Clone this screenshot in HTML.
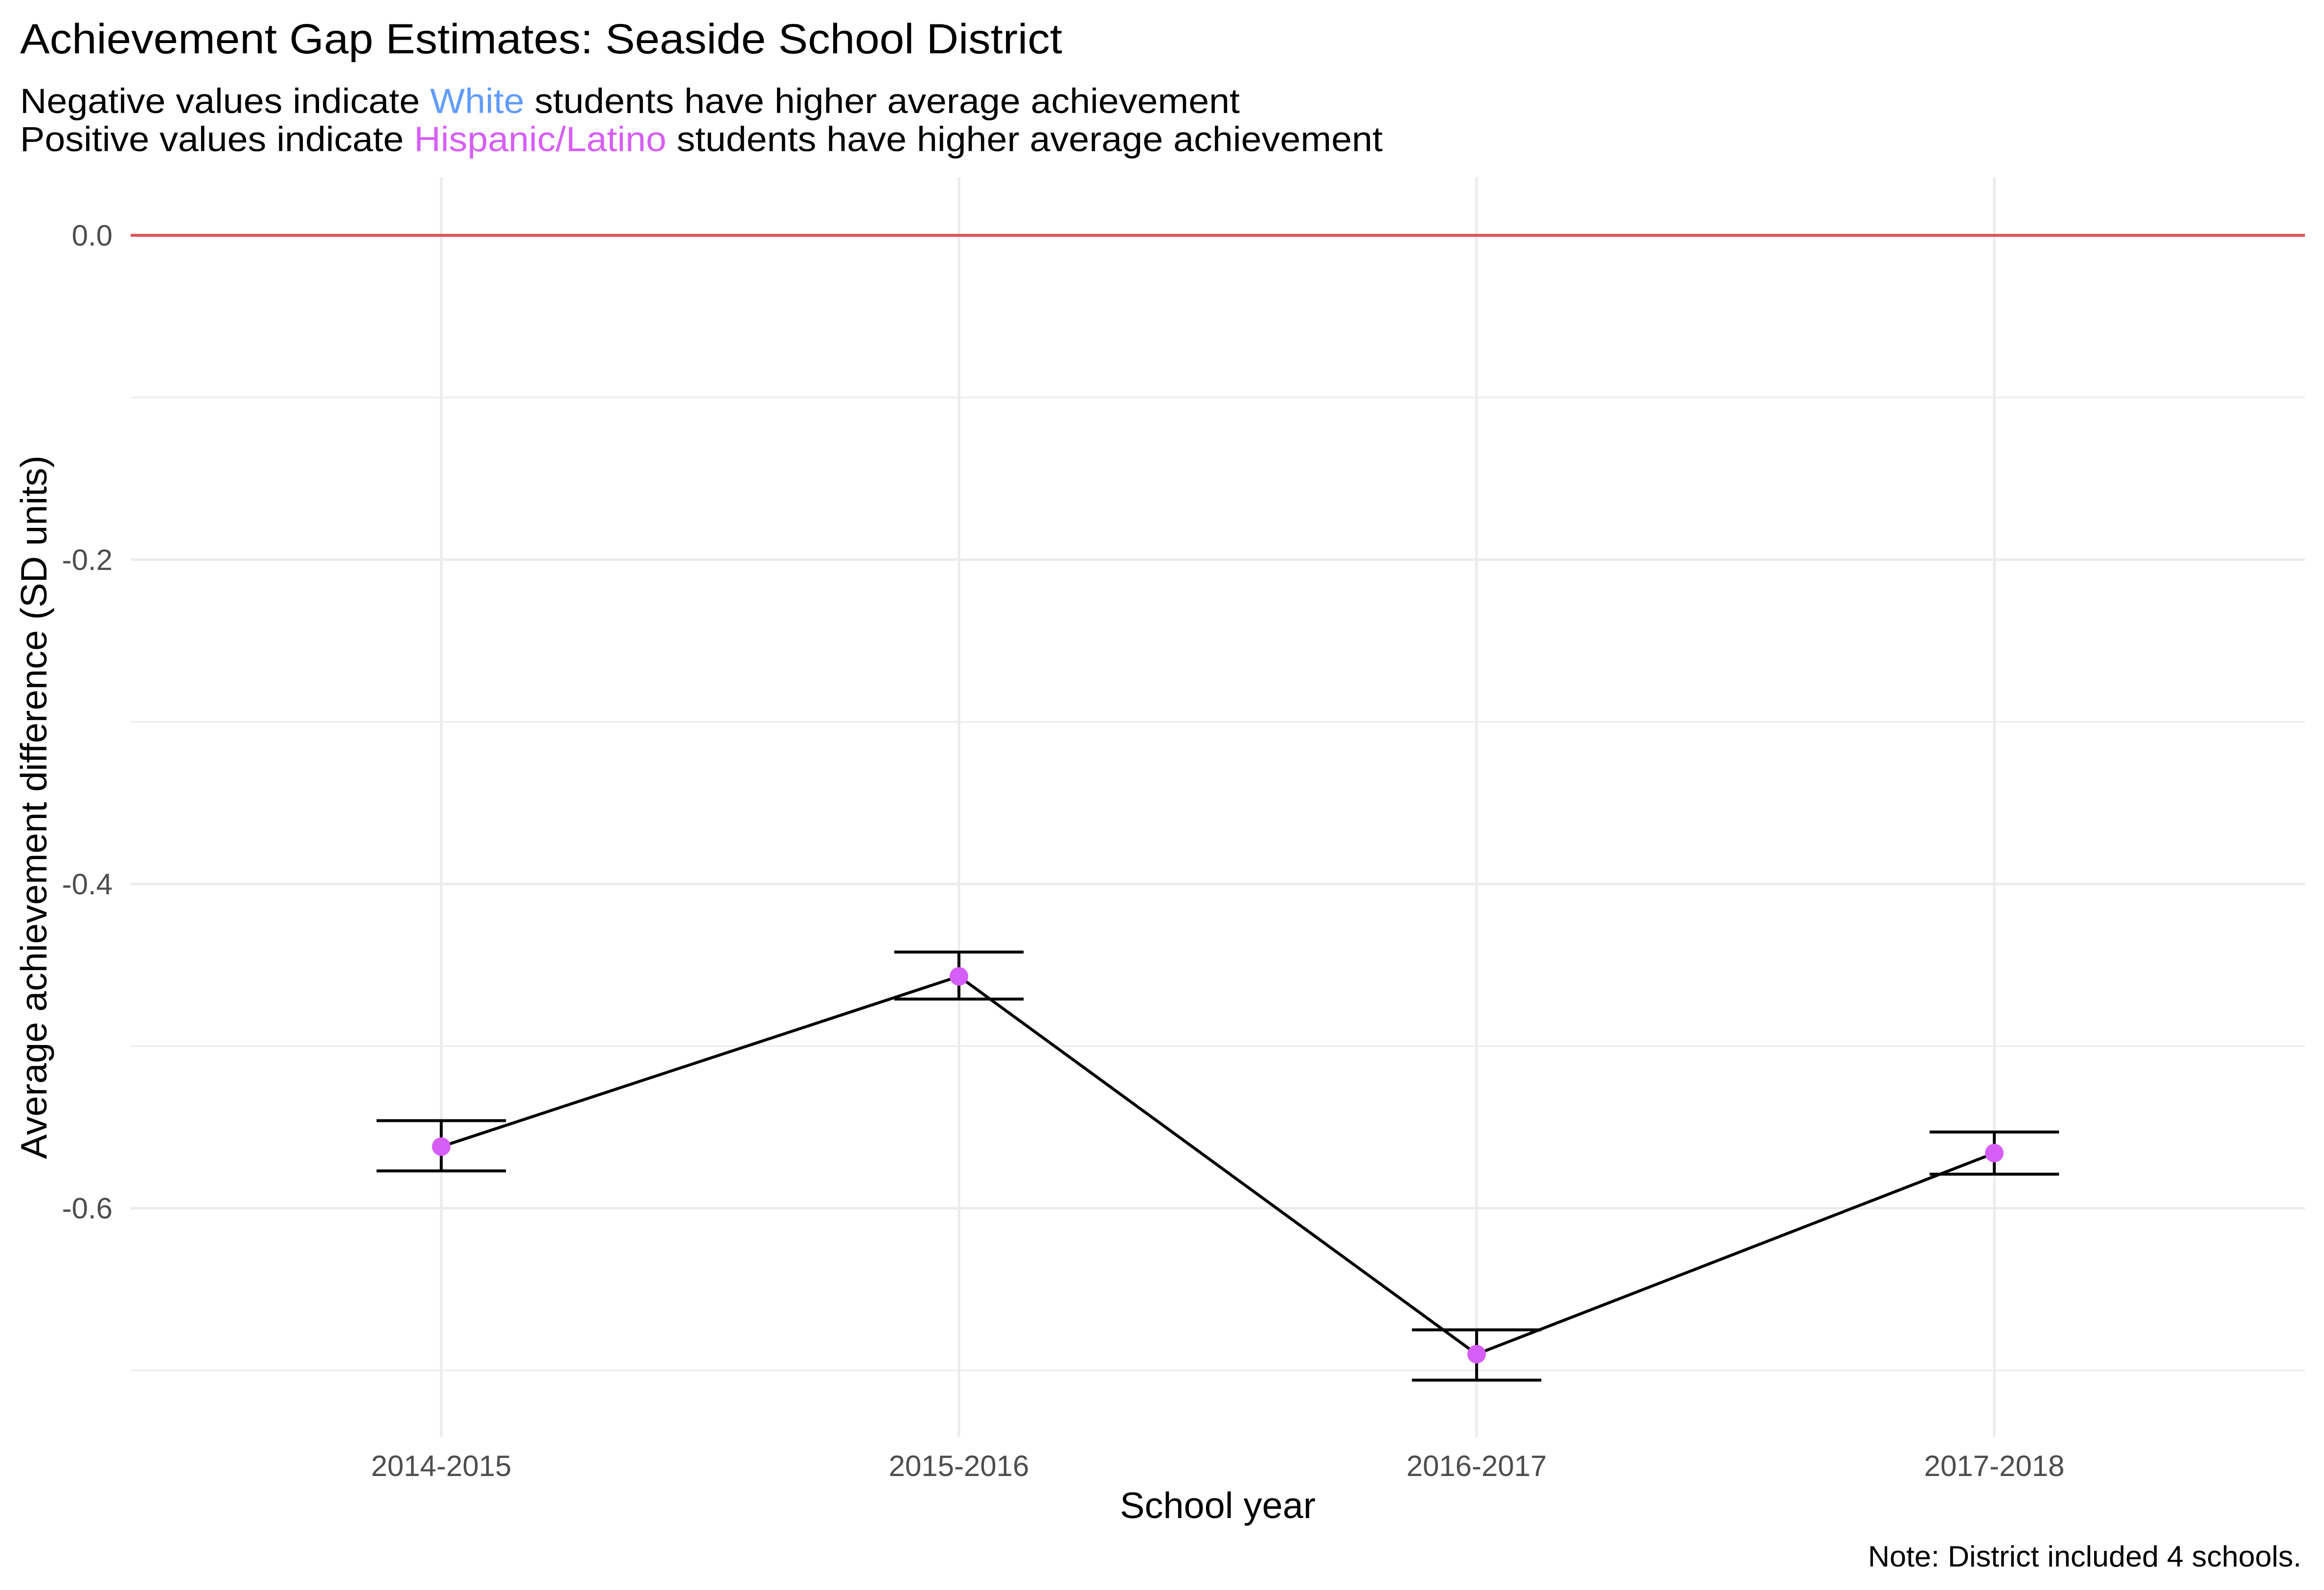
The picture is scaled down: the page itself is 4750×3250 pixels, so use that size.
<!DOCTYPE html>
<html><head><meta charset="utf-8"><title>Achievement Gap Estimates</title>
<style>html,body{margin:0;padding:0;background:#fff}svg{display:block}</style></head>
<body>
<svg id="chart" width="4750" height="3250" viewBox="0 0 4750 3250" xmlns="http://www.w3.org/2000/svg" font-family="'Liberation Sans', Arial, sans-serif">
<rect width="4750" height="3250" fill="#fff"/>
<text x="41" y="109" font-size="86" fill="#000" textLength="2130" lengthAdjust="spacingAndGlyphs">Achievement Gap Estimates: Seaside School District</text>
<text x="41" y="231" font-size="71" fill="#000" textLength="2493" lengthAdjust="spacingAndGlyphs">Negative values indicate <tspan fill="#619CFF">White</tspan> students have higher average achievement</text>
<text x="41" y="309" font-size="71" fill="#000" textLength="2785" lengthAdjust="spacingAndGlyphs">Positive values indicate <tspan fill="#D65EF8">Hispanic/Latino</tspan> students have higher average achievement</text>
<g id="grid"></g>
<g id="marks"></g>
<g id="axes"></g>
<text transform="translate(95,1650) rotate(-90)" text-anchor="middle" font-size="75" fill="#000" textLength="1438" lengthAdjust="spacingAndGlyphs">Average achievement difference (SD units)</text>
<text x="2489" y="3103" text-anchor="middle" font-size="75" fill="#000" textLength="400" lengthAdjust="spacingAndGlyphs">School year</text>
<text x="4704" y="3202" text-anchor="end" font-size="60" fill="#000" textLength="886" lengthAdjust="spacingAndGlyphs">Note: District included 4 schools.</text>
</svg>
<script>
const categories = ["2014-2015","2015-2016","2016-2017","2017-2018"];
const estimates = [-0.562, -0.457, -0.690, -0.566];
const lowerBounds = [-0.577, -0.471, -0.706, -0.579];
const upperBounds = [-0.546, -0.442, -0.675, -0.553];
const yTicks = [0.0, -0.2, -0.4, -0.6];
const yTickLabels = ["0.0","-0.2","-0.4","-0.6"];
const yMinor = [-0.1, -0.3, -0.5, -0.7];

const NS = "http://www.w3.org/2000/svg";
const panel = {left:267, right:4711, top:362, bottom:2937};
const yDomain = [0.0359, -0.741];
function y(v){ return panel.top + (yDomain[0]-v)/(yDomain[0]-yDomain[1])*(panel.bottom-panel.top); }
const xStep = (panel.right-panel.left)/(categories.length+0.2);
function x(i){ return panel.left + (i+0.6)*xStep; }
function mk(tag, attrs, parent){ const e=document.createElementNS(NS,tag); for(const k in attrs) e.setAttribute(k,attrs[k]); parent.appendChild(e); return e; }

const grid=document.getElementById('grid'), marks=document.getElementById('marks'), axes=document.getElementById('axes');
yMinor.forEach(v=>{
  const l=mk('line',{x1:panel.left,x2:panel.right,y1:y(v),y2:y(v),stroke:'#EBEBEB','stroke-width':3},grid);
  
  
});
yTicks.forEach((v,i)=>{
  const l=mk('line',{x1:panel.left,x2:panel.right,y1:y(v),y2:y(v),stroke:'#EBEBEB','stroke-width':5},grid);
  
  
  const t=mk('text',{x:230,y:y(v)+21,'text-anchor':'end','font-size':60,fill:'#4D4D4D'},axes);
  t.textContent=yTickLabels[i];
  
  
});
categories.forEach((c,i)=>{
  const l=mk('line',{x1:x(i),x2:x(i),y1:panel.top,y2:panel.bottom,stroke:'#EBEBEB','stroke-width':5},grid);
  
  
  const t=mk('text',{x:x(i),y:3017,'text-anchor':'middle','font-size':60,fill:'#4D4D4D'},axes);
  t.textContent=c;
  
  
});
// zero reference line
const zl=mk('line',{x1:panel.left,x2:panel.right,y1:y(0),y2:y(0),stroke:'#DA5757','stroke-width':6},marks);


// error bars
const capHalf = 0.125*xStep;
categories.forEach((c,i)=>{
  const g=mk('g',{stroke:'#000','stroke-width':6},marks);
  
  
  mk('line',{x1:x(i),x2:x(i),y1:y(upperBounds[i]),y2:y(lowerBounds[i])},g);
  mk('line',{x1:x(i)-capHalf,x2:x(i)+capHalf,y1:y(upperBounds[i]),y2:y(upperBounds[i])},g);
  mk('line',{x1:x(i)-capHalf,x2:x(i)+capHalf,y1:y(lowerBounds[i]),y2:y(lowerBounds[i])},g);
});
// connecting line
const pts = estimates.map((v,i)=>x(i)+','+y(v)).join(' ');
const pl=mk('polyline',{points:pts,fill:'none',stroke:'#000','stroke-width':6,'stroke-linejoin':'round'},marks);


estimates.forEach((v,i)=>{
  const p=mk('circle',{cx:x(i),cy:y(v),r:19,fill:'#D65EF8'},marks);
  
  
});
</script>
</body></html>
